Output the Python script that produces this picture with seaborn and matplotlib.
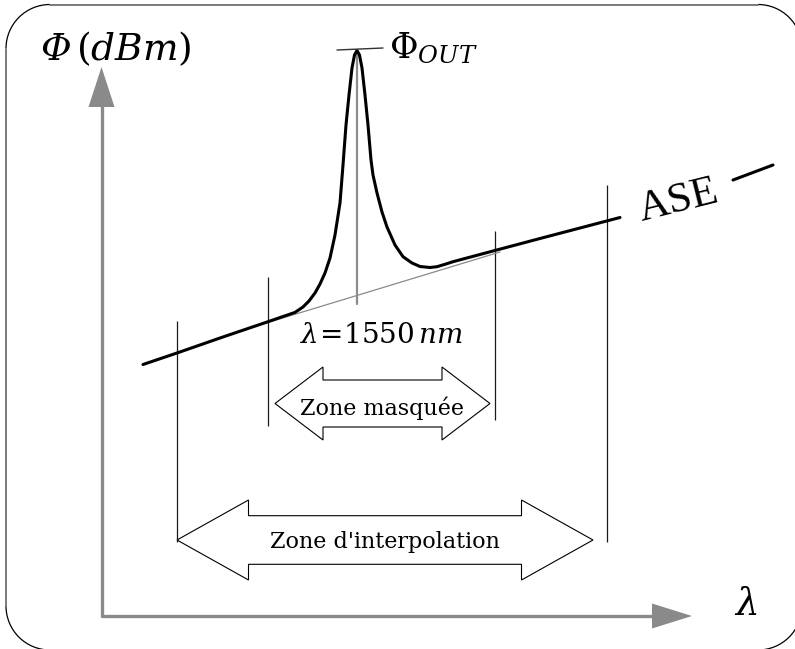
import numpy as np
import matplotlib
matplotlib.use("Agg")
import matplotlib.pyplot as plt
import seaborn as sns
from matplotlib.patches import Polygon, Arc

sns.set_style("white")
plt.rcParams["mathtext.fontset"] = "dejavuserif"
plt.rcParams["text.color"] = "black"

# ---- data (pixel units, y pointing down) ----
# ASE spectrum with the signal peak at 1550 nm
spec_x = [143, 177, 220, 268, 295, 303, 309, 315, 320, 325, 330, 335, 340, 343,
          346, 349, 352, 354.5, 357, 359.5, 362, 365, 368, 371, 373, 377, 382,
          387, 395, 403, 412, 420, 430, 437, 445, 453, 493, 540, 580, 620]
spec_y = [364.5, 353, 338, 321.7, 312.4, 307, 301, 293, 284, 273, 258, 235, 203, 165,
          125, 95, 68, 55, 50.5, 55, 68, 95, 125, 160, 175, 193, 212,
          227, 245, 256.7, 263, 266.5, 267.5, 266.7, 264.3, 261.7, 251, 238.5, 228, 217.5]

# interpolated ASE under the peak
interp_x = [240, 500]
interp_y = [331, 252]

# peak marker and its level tick
peak_x = 357
peak_top, peak_base = 52, 304
tick_x = [337, 383]
tick_y = [50, 48]

# dash after the ASE label
dash_x = [733, 773]
dash_y = [180, 165]

# boundary lines of the zones: x, top, bottom
bounds_x = [177, 268, 495, 607]
bounds_top = [321, 277, 231, 185]
bounds_bot = [542, 426, 420, 542]

# zones: left tip, right tip, centre y, head length, head half height, shaft half height
zones = {
    "Zone masquée": (275, 490, 403.5, 48, 36.5, 23.5),
    "Zone d'interpolation": (177, 593, 540, 71.5, 40, 24.3),
}
zone_label_base = {"Zone masquée": 415, "Zone d'interpolation": 548}

# axes of the sketch
origin = (101.5, 616)
y_tip = 67
x_tip = 692

W, H = 795, 649

fig = plt.figure(figsize=(W / 100, H / 100), dpi=100)
ax = fig.add_axes([0, 0, 1, 1])
ax.set_xlim(0, W)
ax.set_ylim(H, 0)
ax.axis("off")

# rounded frame: grey straight edges, black corners
fl, ft, fr, fb, rad = 6, 4.5, 802, 650, 44
edge = "#7a7a7a"
ax.plot([fl + rad, fr - rad], [ft, ft], color=edge, lw=1.4)
ax.plot([fl + rad, fr - rad], [fb, fb], color=edge, lw=1.4)
ax.plot([fl, fl], [ft + rad, fb - rad], color=edge, lw=1.4)
ax.plot([fr, fr], [ft + rad, fb - rad], color=edge, lw=1.4)
for cx, cy, a0 in [(fl + rad, ft + rad, 180), (fr - rad, ft + rad, 270),
                   (fr - rad, fb - rad, 0), (fl + rad, fb - rad, 90)]:
    ax.add_patch(Arc((cx, cy), 2 * rad, 2 * rad, theta1=a0, theta2=a0 + 90,
                     color="black", lw=0.9))

# axes with arrow heads
gray = "#8a8a8a"
ax.plot([origin[0], origin[0]], [origin[1] + 1, y_tip + 38], color=gray, lw=2.4,
        solid_capstyle="butt")
ax.plot([origin[0] - 1, x_tip - 38], [origin[1], origin[1]], color=gray, lw=2.4,
        solid_capstyle="butt")
ax.add_patch(Polygon([(origin[0], y_tip), (origin[0] - 13, y_tip + 40), (origin[0] + 13, y_tip + 40)],
                     closed=True, color=gray, lw=0))
ax.add_patch(Polygon([(x_tip, origin[1]), (x_tip - 40, origin[1] - 12.5), (x_tip - 40, origin[1] + 12.5)],
                     closed=True, color=gray, lw=0))

# zone boundaries
ax.vlines(bounds_x, bounds_top, bounds_bot, color="#1a1a1a", lw=0.9)

# interpolated ASE and peak marker
sns.lineplot(x=interp_x, y=interp_y, color="#8a8a8a", lw=0.9, ax=ax)
ax.plot([peak_x, peak_x], [peak_top, peak_base], color="#8c8c8c", lw=1.6)
sns.lineplot(x=spec_x, y=spec_y, sort=False, estimator=None, color="black", lw=2.2, ax=ax)
ax.plot(tick_x, tick_y, color="#333333", lw=1.0)
sns.lineplot(x=dash_x, y=dash_y, sort=False, estimator=None, color="black", lw=2.2, ax=ax)

# double arrows
for name, (x0, x1, yc, hl, hh, sh) in zones.items():
    pts = [(x0, yc), (x0 + hl, yc - hh), (x0 + hl, yc - sh), (x1 - hl, yc - sh),
           (x1 - hl, yc - hh), (x1, yc), (x1 - hl, yc + hh), (x1 - hl, yc + sh),
           (x0 + hl, yc + sh), (x0 + hl, yc + hh)]
    ax.add_patch(Polygon(pts, closed=True, facecolor="white", edgecolor="black", lw=0.8))
    ax.text((x0 + x1) / 2, zone_label_base[name], name, ha="center", va="baseline",
            fontsize=16, family="DejaVu Serif", color="black")

# labels
ax.text(40, 60, "Φ", fontsize=27, family="DejaVu Serif", style="italic",
        ha="left", va="baseline", color="black")
ax.text(76, 60, r"$(dBm)$", fontsize=27, ha="left", va="baseline", color="black")
ax.text(389, 58, r"$\Phi_{OUT}$", fontsize=25, ha="left", va="baseline", color="black")
ax.text(381, 343, r"$\lambda\!=\!1550\,nm$", fontsize=20, ha="center", va="baseline",
        color="black")
ax.text(746, 615, r"$\lambda$", fontsize=27, ha="center", va="baseline", color="black")
ax.text(679, 201, "ASE", fontsize=31, family="Liberation Serif", rotation=14,
        ha="center", va="center", rotation_mode="anchor", color="black")

fig.savefig("out.png", dpi=100)
